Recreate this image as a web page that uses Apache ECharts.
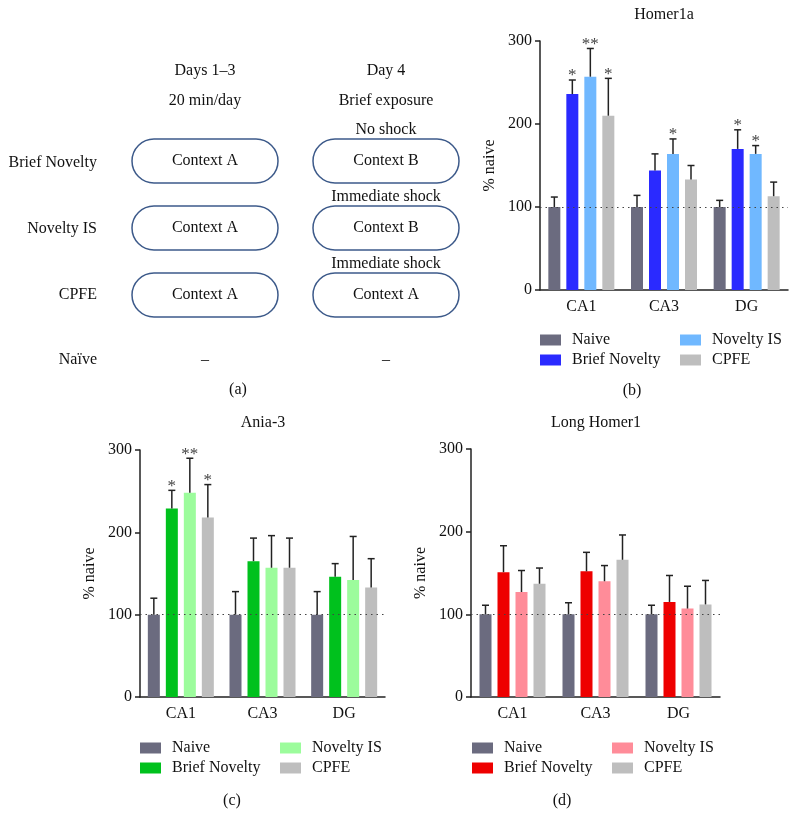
<!DOCTYPE html>
<html>
<head>
<meta charset="utf-8">
<script src="https://cdn.jsdelivr.net/npm/echarts@6/dist/echarts.min.js"></script>
<style>
  html, body { margin: 0; padding: 0; background: #fff; }
  #graph { width: 799px; height: 833px; }
</style>
</head>
<body>
<div id="graph"></div>
<script>
var categories = ['CA1', 'CA3', 'DG'];
var groupNames = ['Naive', 'Brief Novelty', 'Novelty IS', 'CPFE'];
var yTicks = [0, 100, 200, 300];

// rows: Naive, Brief Novelty, Novelty IS, CPFE ; columns: CA1, CA3, DG
var homer1aMeans = [[100, 100, 100], [236, 144, 170], [257, 164, 164], [210, 133, 113]];
var homer1aErr   = [[12, 14, 8], [17, 20, 23], [34, 18, 10], [45, 17, 17]];
var homer1aStars = [['', '', ''], ['*', '', '*'], ['**', '*', '*'], ['*', '', '']];

var ania3Means = [[100, 100, 100], [229, 165, 146], [248, 157, 142], [218, 157, 133]];
var ania3Err   = [[20, 28, 28], [22, 28, 16], [42, 39, 53], [40, 36, 35]];
var ania3Stars = [['', '', ''], ['*', '', ''], ['**', '', ''], ['*', '', '']];

var longHomerMeans = [[100, 100, 100], [151, 152, 115], [127, 140, 107], [137, 166, 112]];
var longHomerErr   = [[11, 14, 11], [32, 23, 32], [26, 19, 27], [19, 30, 29]];
var longHomerStars = [['', '', ''], ['', '', ''], ['', '', ''], ['', '', '']];

var blueColors  = ['#6b6b7f', '#2a2aff', '#70b8ff', '#bebebe'];
var greenColors = ['#6b6b7f', '#00c11d', '#9cfc9c', '#bebebe'];
var redColors   = ['#6b6b7f', '#ee0000', '#ff8c99', '#bebebe'];

var FONT = 'Liberation Serif';
var dom = document.getElementById('graph');
var myChart = echarts.init(dom);

var panels = [
    { means: homer1aMeans, err: homer1aErr, stars: homer1aStars, colors: blueColors,
      grid: { left: 540, top: 41, width: 248, height: 249 }, legendLeft: [540, 680], legendTop: 332 },
    { means: ania3Means, err: ania3Err, stars: ania3Stars, colors: greenColors,
      grid: { left: 140, top: 450, width: 245, height: 247 }, legendLeft: [140, 280], legendTop: 740 },
    { means: longHomerMeans, err: longHomerErr, stars: longHomerStars, colors: redColors,
      grid: { left: 471, top: 449, width: 249, height: 248 }, legendLeft: [472, 612], legendTop: 740 }
];

var grids = [], xAxes = [], yAxes = [], series = [], legends = [];

panels.forEach(function (p, i) {
    grids.push(p.grid);
    xAxes.push({
        type: 'category', gridIndex: i, data: categories,
        axisLine: { lineStyle: { color: '#222', width: 1.5 } },
        axisTick: { show: false },
        axisLabel: { fontSize: 16, color: '#111', margin: 9, fontFamily: FONT }
    });
    yAxes.push({
        type: 'value', gridIndex: i, min: yTicks[0], max: yTicks[yTicks.length - 1], interval: 100,
        name: '% naive', nameLocation: 'middle', nameGap: 42,
        nameTextStyle: { fontSize: 16, color: '#111', fontFamily: FONT },
        axisLine: { show: true, lineStyle: { color: '#222', width: 1.5 } },
        axisTick: { show: true, length: 5, lineStyle: { color: '#222', width: 1.5 } },
        splitLine: { show: false },
        axisLabel: { fontSize: 16, color: '#111', margin: 8, fontFamily: FONT }
    });

    var errData = [], starList = [];
    groupNames.forEach(function (g, gi) {
        var s = {
            name: g + '|' + i, type: 'bar', xAxisIndex: i, yAxisIndex: i,
            data: p.means[gi], barWidth: 12, barGap: '50%',
            itemStyle: { color: p.colors[gi] }, silent: true
        };
        if (gi === 0) {
            s.markLine = {
                silent: true, symbol: 'none', label: { show: false },
                lineStyle: { type: [1.5, 4], color: '#444', width: 1.2 },
                data: [{ yAxis: 100 }]
            };
        }
        series.push(s);
        for (var c = 0; c < categories.length; c++) {
            errData.push([c, p.means[gi][c], p.means[gi][c] + p.err[gi][c], gi]);
            starList.push(p.stars[gi][c]);
        }
    });

    series.push({
        type: 'custom', xAxisIndex: i, yAxisIndex: i, silent: true, z: 5,
        data: errData,
        encode: { x: 0, y: [1, 2] },
        renderItem: function (params, api) {
            var c = api.value(0), gi = api.value(3);
            var base = api.coord([c, api.value(1)]);
            var top = api.coord([c, api.value(2)]);
            var x = base[0] + (gi - 1.5) * 18;
            var kids = [
                { type: 'line', shape: { x1: x, y1: base[1], x2: x, y2: top[1] },
                  style: { stroke: '#222', lineWidth: 1.5 } },
                { type: 'line', shape: { x1: x - 3.5, y1: top[1], x2: x + 3.5, y2: top[1] },
                  style: { stroke: '#222', lineWidth: 1.5 } }
            ];
            var st = starList[params.dataIndex];
            if (st) {
                kids.push({ type: 'text', style: { text: st, x: x, y: top[1] - 4,
                    align: 'center', verticalAlign: 'middle', font: '17px ' + FONT, fill: '#444' } });
            }
            return { type: 'group', children: kids };
        }
    });

    [[0, 1], [2, 3]].forEach(function (cols, k) {
        legends.push({
            orient: 'vertical', left: p.legendLeft[k], top: p.legendTop, padding: 0,
            itemWidth: 21, itemHeight: 11, itemGap: 4, icon: 'rect', selectedMode: false,
            data: cols.map(function (gi) { return groupNames[gi] + '|' + i; }),
            formatter: function (name) { return name.split('|')[0]; },
            textStyle: { fontSize: 16, color: '#111', fontFamily: FONT, lineHeight: 14, padding: [0, 0, 0, 6] }
        });
    });
});

function txt(t, x, y, align) {
    return { type: 'text', style: { text: t, x: x, y: y, align: align || 'center', verticalAlign: 'middle',
        font: '16px ' + FONT, fill: '#111' } };
}
function box(x, y) {
    return { type: 'rect', shape: { x: x, y: y, width: 146, height: 44, r: 22 },
        style: { fill: 'none', stroke: '#3d5a8a', lineWidth: 1.5 } };
}

var graphics = [
    txt('Days 1–3', 205, 71), txt('20 min/day', 205, 101),
    txt('Day 4', 386, 71), txt('Brief exposure', 386, 101), txt('No shock', 386, 130),
    box(132, 139), box(313, 139), box(132, 206), box(313, 206), box(132, 273), box(313, 273),
    txt('Context A', 205, 161), txt('Context B', 386, 161),
    txt('Immediate shock', 386, 197),
    txt('Context A', 205, 228), txt('Context B', 386, 228),
    txt('Immediate shock', 386, 264),
    txt('Context A', 205, 295), txt('Context A', 386, 295),
    txt('Brief Novelty', 97, 163, 'right'), txt('Novelty IS', 97, 229, 'right'),
    txt('CPFE', 97, 295, 'right'), txt('Naïve', 97, 360, 'right'),
    txt('–', 205, 360), txt('–', 386, 360),
    txt('(a)', 238, 390), txt('(b)', 632, 391), txt('(c)', 232, 801), txt('(d)', 562, 801),
    txt('Homer1a', 664, 15), txt('Ania-3', 263, 423), txt('Long Homer1', 596, 423)
];

option = {
    backgroundColor: '#fff',
    animation: false,
    textStyle: { fontFamily: FONT },
    grid: grids,
    xAxis: xAxes,
    yAxis: yAxes,
    legend: legends,
    series: series,
    graphic: graphics
};
myChart.setOption(option, true);
</script>
</body>
</html>
